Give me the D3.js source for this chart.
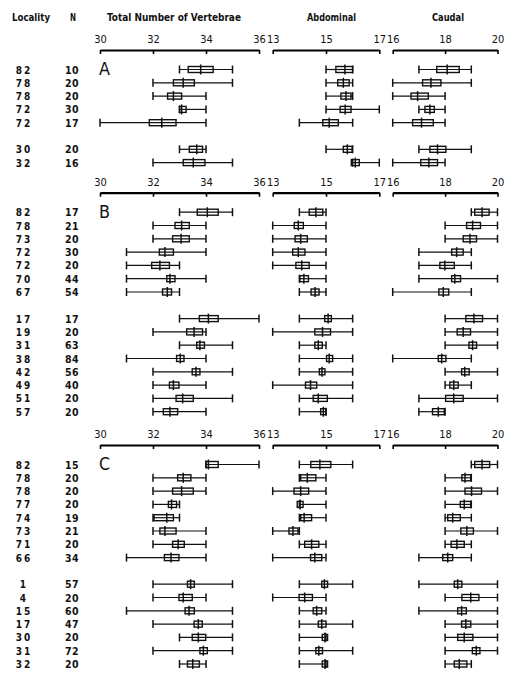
<!DOCTYPE html>
<html>
<head>
<meta charset="utf-8">
<script src="https://cdn.jsdelivr.net/npm/d3@7"></script>
<style>
body { margin: 0; background: #fff; }
text { font-family: "DejaVu Sans", "Liberation Sans", sans-serif; font-stretch: condensed; fill: #111; }
</style>
</head>
<body>
<div id="chart"></div>
<script>
// each record: [min, box low, mean, box high, max]
var totalTicks = [30, 32, 34, 36];
var abdTicks = [13, 15, 17];
var caudTicks = [16, 18, 20];

var localityA = ["82", "78", "78", "72", "72", "30", "32"];
var nA = [10, 20, 20, 30, 17, 20, 16];
var groupsA = [5, 2];
var totalA = [
    [33, 33.33, 33.8, 34.27, 35], [32, 32.77, 33.14, 33.56, 35], [32, 32.55, 32.77, 33.08, 34],
    [33, 33.0, 33.08, 33.25, 34], [30, 31.86, 32.33, 32.87, 34], [33, 33.37, 33.65, 33.87, 34],
    [32, 33.14, 33.52, 33.96, 35]
];
var abdA = [
    [15, 15.37, 15.71, 16.0, 16], [15, 15.44, 15.65, 15.87, 16], [15, 15.56, 15.75, 15.94, 16],
    [15, 15.53, 15.72, 15.94, 17], [14, 14.88, 15.12, 15.46, 16], [15, 15.65, 15.8, 15.98, 16],
    [16, 15.95, 16.1, 16.25, 17]
];
var caudA = [
    [17, 17.68, 18.08, 18.54, 19], [16, 17.14, 17.46, 17.84, 19], [16, 16.7, 16.95, 17.36, 18],
    [17, 17.23, 17.42, 17.59, 18], [16, 16.76, 17.1, 17.55, 18], [17, 17.42, 17.71, 18.03, 19],
    [16, 17.07, 17.38, 17.71, 18]
];

var localityB = ["82", "78", "73", "72", "72", "70", "67", "17", "19", "31", "38", "42", "49", "51", "57"];
var nB = [17, 21, 20, 30, 20, 44, 54, 17, 20, 63, 84, 56, 40, 20, 20];
var groupsB = [7, 8];
var totalB = [
    [33, 33.67, 34.05, 34.46, 35], [32, 32.83, 33.08, 33.37, 34], [32, 32.74, 33.06, 33.37, 34],
    [31, 32.24, 32.45, 32.77, 34], [31, 31.95, 32.26, 32.62, 33], [31, 32.52, 32.64, 32.83, 34],
    [31, 32.36, 32.54, 32.7, 33], [33, 33.75, 34.09, 34.46, 36], [32, 33.27, 33.55, 33.87, 34],
    [33, 33.65, 33.77, 33.94, 35], [31, 32.89, 33.03, 33.17, 34], [32, 33.48, 33.62, 33.77, 35],
    [32, 32.62, 32.77, 32.98, 34], [32, 32.87, 33.12, 33.52, 35], [32, 32.39, 32.64, 32.93, 34]
];
var abdB = [
    [14, 14.37, 14.62, 14.88, 15], [13, 13.81, 13.96, 14.15, 15], [13, 13.84, 14.05, 14.3, 15],
    [13, 13.75, 13.96, 14.21, 15], [13, 13.87, 14.09, 14.37, 15], [14, 14.02, 14.17, 14.34, 15],
    [14, 14.44, 14.59, 14.74, 15], [14, 14.95, 15.08, 15.2, 16], [13, 14.58, 14.87, 15.17, 16],
    [14, 14.58, 14.71, 14.86, 15], [14, 15.02, 15.12, 15.25, 16], [14, 14.75, 14.85, 14.96, 16],
    [13, 14.23, 14.42, 14.65, 16], [14, 14.52, 14.71, 15.05, 16], [14, 14.8, 14.9, 15.0, 15]
];
var caudB = [
    [19, 19.13, 19.41, 19.68, 20], [18, 18.82, 19.05, 19.35, 20], [18, 18.69, 18.95, 19.2, 20],
    [17, 18.25, 18.44, 18.69, 19], [17, 17.8, 17.99, 18.35, 19], [17, 18.25, 18.37, 18.59, 20],
    [16, 17.76, 17.93, 18.14, 19], [18, 18.79, 19.1, 19.43, 20], [18, 18.46, 18.69, 18.97, 20],
    [18, 18.91, 19.05, 19.2, 20], [16, 17.74, 17.87, 18.03, 19], [18, 18.63, 18.75, 18.92, 20],
    [18, 18.18, 18.33, 18.5, 19], [17, 18.02, 18.33, 18.69, 20], [17, 17.52, 17.74, 17.97, 18]
];

var localityC = ["82", "78", "78", "77", "74", "73", "71", "66", "1", "4", "15", "17", "30", "31", "32"];
var nC = [15, 20, 20, 20, 19, 21, 20, 34, 57, 20, 60, 47, 20, 72, 20];
var groupsC = [8, 7];
var totalC = [
    [34, 34.0, 34.09, 34.46, 36], [32, 32.93, 33.14, 33.43, 34], [32, 32.74, 33.08, 33.52, 34],
    [32, 32.58, 32.7, 32.89, 33], [32, 32.04, 32.52, 32.77, 33], [32, 32.26, 32.45, 32.87, 34],
    [32, 32.74, 32.95, 33.18, 34], [31, 32.43, 32.68, 32.98, 34], [32, 33.3, 33.42, 33.56, 35],
    [32, 32.98, 33.14, 33.48, 34], [31, 33.21, 33.36, 33.56, 35], [32, 33.55, 33.71, 33.86, 35],
    [33, 33.48, 33.71, 33.99, 35], [32, 33.77, 33.9, 34.05, 35], [33, 33.3, 33.5, 33.75, 34]
];
var abdC = [
    [14, 14.43, 14.77, 15.18, 16], [14, 14.05, 14.3, 14.62, 15], [13, 13.8, 14.05, 14.35, 15],
    [14, 13.92, 14.03, 14.14, 15], [14, 14.05, 14.18, 14.46, 15], [13, 13.61, 13.76, 13.95, 14],
    [14, 14.2, 14.46, 14.73, 15], [13, 14.42, 14.58, 14.84, 15], [14, 14.84, 14.94, 15.06, 16],
    [13, 13.99, 14.2, 14.49, 15], [14, 14.52, 14.65, 14.84, 15], [14, 14.71, 14.84, 15.0, 16],
    [14, 14.86, 14.96, 15.06, 15], [14, 14.62, 14.73, 14.87, 16], [14, 14.86, 14.96, 15.06, 15]
];
var caudC = [
    [19, 19.13, 19.41, 19.7, 20], [18, 18.64, 18.76, 18.98, 19], [18, 18.76, 19.01, 19.39, 20],
    [18, 18.58, 18.73, 18.98, 19], [18, 18.1, 18.29, 18.58, 19], [18, 18.6, 18.83, 19.08, 20],
    [18, 18.23, 18.45, 18.73, 19], [17, 17.91, 18.1, 18.29, 19], [17, 18.35, 18.48, 18.64, 20],
    [18, 18.64, 18.98, 19.29, 20], [17, 18.48, 18.63, 18.81, 20], [18, 18.63, 18.79, 18.98, 20],
    [18, 18.48, 18.73, 19.06, 20], [18, 19.04, 19.19, 19.33, 20], [18, 18.35, 18.54, 18.83, 19]
];

var width = 505, height = 673;

var svg = d3.select("#chart")
    .append("svg")
        .attr("width", width)
        .attr("height", height);

var xTotal = d3.scaleLinear().domain([30, 36]).range([100, 259]);
var xAbd = d3.scaleLinear().domain([13, 17]).range([272.7, 379.3]);
var xCaud = d3.scaleLinear().domain([16, 20]).range([392.7, 497.5]);

// column headings, squeezed to the narrow type of the original
var head = svg.append("g").attr("font-weight", "bold").attr("font-size", "11px");
var heading = function(x, len, label) {
    head.append("text")
        .attr("x", x)
        .attr("y", 21)
        .attr("textLength", len)
        .attr("lengthAdjust", "spacingAndGlyphs")
        .text(label);
};
heading(12, 38, "Locality");
heading(70, 6, "N");
heading(107, 134, "Total Number of Vertebrae");
heading(307, 49, "Abdominal");
heading(432, 32, "Caudal");

var drawSection = function(letter, axisY, localities, ns, groups, series) {
    var g = svg.append("g");

    // slot index, leaving one empty line between groups
    var slots = [];
    var s = 0;
    groups.forEach(function(size) {
        for (var k = 0; k < size; k++) { slots.push(s); s++; }
        s++;
    });
    var y = d3.scaleLinear().domain([0, 1]).range([axisY + 19.5, axisY + 32.8]);

    [[xTotal, totalTicks], [xAbd, abdTicks], [xCaud, caudTicks]].forEach(function(p) {
        var ax = g.append("g")
            .attr("transform", "translate(0," + axisY + ")")
            .call(d3.axisTop(p[0]).tickValues(p[1]).tickFormat(d3.format("d"))
                .tickSizeInner(-4).tickSizeOuter(0).tickPadding(7));
        ax.select(".domain").attr("stroke-width", 2.2);
        ax.selectAll(".tick line").attr("stroke-width", 1.6);
        ax.selectAll(".tick text")
            .attr("font-size", "11px")
            .attr("font-family", "\"DejaVu Sans\", sans-serif")
            .style("font-stretch", "condensed")
            .attr("fill", "#111");
    });

    g.append("text")
        .attr("x", 99)
        .attr("y", axisY + 25)
        .attr("font-size", "17px")
        .attr("textLength", 11)
        .attr("lengthAdjust", "spacingAndGlyphs")
        .text(letter);

    g.selectAll(".loc")
        .data(localities)
        .enter()
        .append("text")
        .attr("class", "loc")
        .attr("x", 24)
        .attr("y", function(d, i) { return y(slots[i]) + 4; })
        .attr("text-anchor", "middle")
        .attr("font-size", "10px")
        .attr("font-weight", "bold")
        .style("letter-spacing", "2px")
        .text(function(d) { return d; });

    g.selectAll(".n")
        .data(ns)
        .enter()
        .append("text")
        .attr("class", "n")
        .attr("x", 72)
        .attr("y", function(d, i) { return y(slots[i]) + 4; })
        .attr("text-anchor", "middle")
        .attr("font-size", "10.5px")
        .attr("font-weight", "bold")
        .style("letter-spacing", "0.5px")
        .text(function(d) { return d; });

    series.forEach(function(sr) {
        var x = sr[0];
        var rows = g.append("g").selectAll("g")
            .data(sr[1])
            .enter()
            .append("g")
            .attr("transform", function(d, i) { return "translate(0," + y(slots[i]) + ")"; })
            .attr("stroke", "#111")
            .attr("fill", "none");
        rows.append("line")
            .attr("x1", function(d) { return x(d[0]); })
            .attr("x2", function(d) { return x(d[4]); })
            .attr("stroke-width", 1.2);
        rows.append("line")
            .attr("x1", function(d) { return x(d[0]); })
            .attr("x2", function(d) { return x(d[0]); })
            .attr("y1", -4).attr("y2", 4)
            .attr("stroke-width", 1.5);
        rows.append("line")
            .attr("x1", function(d) { return x(d[4]); })
            .attr("x2", function(d) { return x(d[4]); })
            .attr("y1", -4).attr("y2", 4)
            .attr("stroke-width", 1.5);
        rows.append("rect")
            .attr("x", function(d) { return x(d[1]); })
            .attr("width", function(d) { return Math.max(1, x(d[3]) - x(d[1])); })
            .attr("y", -3)
            .attr("height", 6)
            .attr("stroke-width", 1.4);
        rows.append("line")
            .attr("x1", function(d) { return x(d[2]); })
            .attr("x2", function(d) { return x(d[2]); })
            .attr("y1", -5).attr("y2", 5)
            .attr("stroke-width", 1.5);
    });
};

drawSection("A", 50, localityA, nA, groupsA, [[xTotal, totalA], [xAbd, abdA], [xCaud, caudA]]);
drawSection("B", 192.7, localityB, nB, groupsB, [[xTotal, totalB], [xAbd, abdB], [xCaud, caudB]]);
drawSection("C", 445, localityC, nC, groupsC, [[xTotal, totalC], [xAbd, abdC], [xCaud, caudC]]);
</script>
</body>
</html>
